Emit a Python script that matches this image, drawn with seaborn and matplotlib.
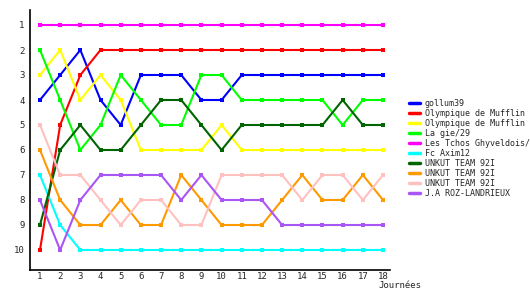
import matplotlib
matplotlib.use("Agg")
import matplotlib.pyplot as plt
import seaborn as sns
import pandas as pd

rounds = list(range(1, 19))
labels = ["gollum39", "Olympique de Mufflin", "Olympique de Mufflin", "La gie/29",
          "Les Tchos Ghyveldois/", "Fc Axim12", "UNKUT TEAM 92I", "UNKUT TEAM 92I",
          "UNKUT TEAM 92I", "J.A ROZ-LANDRIEUX"]
gollum39 = [4, 3, 2, 4, 5, 3, 3, 3, 4, 4, 3, 3, 3, 3, 3, 3, 3, 3]
olympique_a = [10, 5, 3, 2, 2, 2, 2, 2, 2, 2, 2, 2, 2, 2, 2, 2, 2, 2]
olympique_b = [3, 2, 4, 3, 4, 6, 6, 6, 6, 5, 6, 6, 6, 6, 6, 6, 6, 6]
la_gie = [2, 4, 6, 5, 3, 4, 5, 5, 3, 3, 4, 4, 4, 4, 4, 5, 4, 4]
tchos = [1] * 18
axim = [7, 9, 10, 10, 10, 10, 10, 10, 10, 10, 10, 10, 10, 10, 10, 10, 10, 10]
unkut_a = [9, 6, 5, 6, 6, 5, 4, 4, 5, 6, 5, 5, 5, 5, 5, 4, 5, 5]
unkut_b = [6, 8, 9, 9, 8, 9, 9, 7, 8, 9, 9, 9, 8, 7, 8, 8, 7, 8]
unkut_c = [5, 7, 7, 8, 9, 8, 8, 9, 9, 7, 7, 7, 7, 8, 7, 7, 8, 7]
roz = [8, 10, 8, 7, 7, 7, 7, 8, 7, 8, 8, 8, 9, 9, 9, 9, 9, 9]
series = [gollum39, olympique_a, olympique_b, la_gie, tchos, axim, unkut_a, unkut_b, unkut_c, roz]
colors = ["#0000FF", "#FF0000", "#FFFF00", "#00FF00", "#FF00FF", "#00FFFF",
          "#006400", "#FF9900", "#FFC0C0", "#AA55F5"]

sns.set_style("white")
plt.rcParams['font.family'] = ['DejaVu Sans Mono', 'DejaVu Sans']

fig = plt.figure(figsize=(5.3, 3.0), dpi=100)
ax = fig.add_axes([30/530, 30/300, 360/530, 260/300])

for i, (lab, vals, col) in enumerate(zip(labels, series, colors)):
    df = pd.DataFrame({"round": rounds, "rank": vals})
    sns.lineplot(data=df, x="round", y="rank", ax=ax, color=col, linewidth=1.5,
                 marker="s", markersize=2.8, markeredgewidth=0, label=lab, legend=False)

ax.set_xlim(1 - 10/20.2, 18 + 7/20.2)
ax.set_ylim(10.8, 0.4)
ax.set_xticks(rounds)
ax.set_yticks(range(1, 11))
ax.tick_params(axis='both', length=0, labelsize=6.5)
ax.tick_params(axis='y', pad=4)
ax.tick_params(axis='x', pad=1.5)
ax.set_xlabel("")
ax.set_ylabel("")
for s in ["top", "right"]:
    ax.spines[s].set_visible(False)
for s in ["left", "bottom"]:
    ax.spines[s].set_color("black")
    ax.spines[s].set_linewidth(1.2)

handles, labs = ax.get_legend_handles_labels()
fig.legend(handles, labs, loc="upper left", bbox_to_anchor=(409/530, 1 - 99/300),
           frameon=False, fontsize=6, handlelength=1.3, handletextpad=0.6,
           labelspacing=0.12, borderpad=0, borderaxespad=0)
for h in fig.legends[0].legend_handles:
    h.set_linewidth(2.5)
    h.set_marker("")

fig.text(378/530, 1 - 285/300, "Journées", fontsize=6.5, va="center", ha="left")

fig.savefig("out.png", dpi=100)
